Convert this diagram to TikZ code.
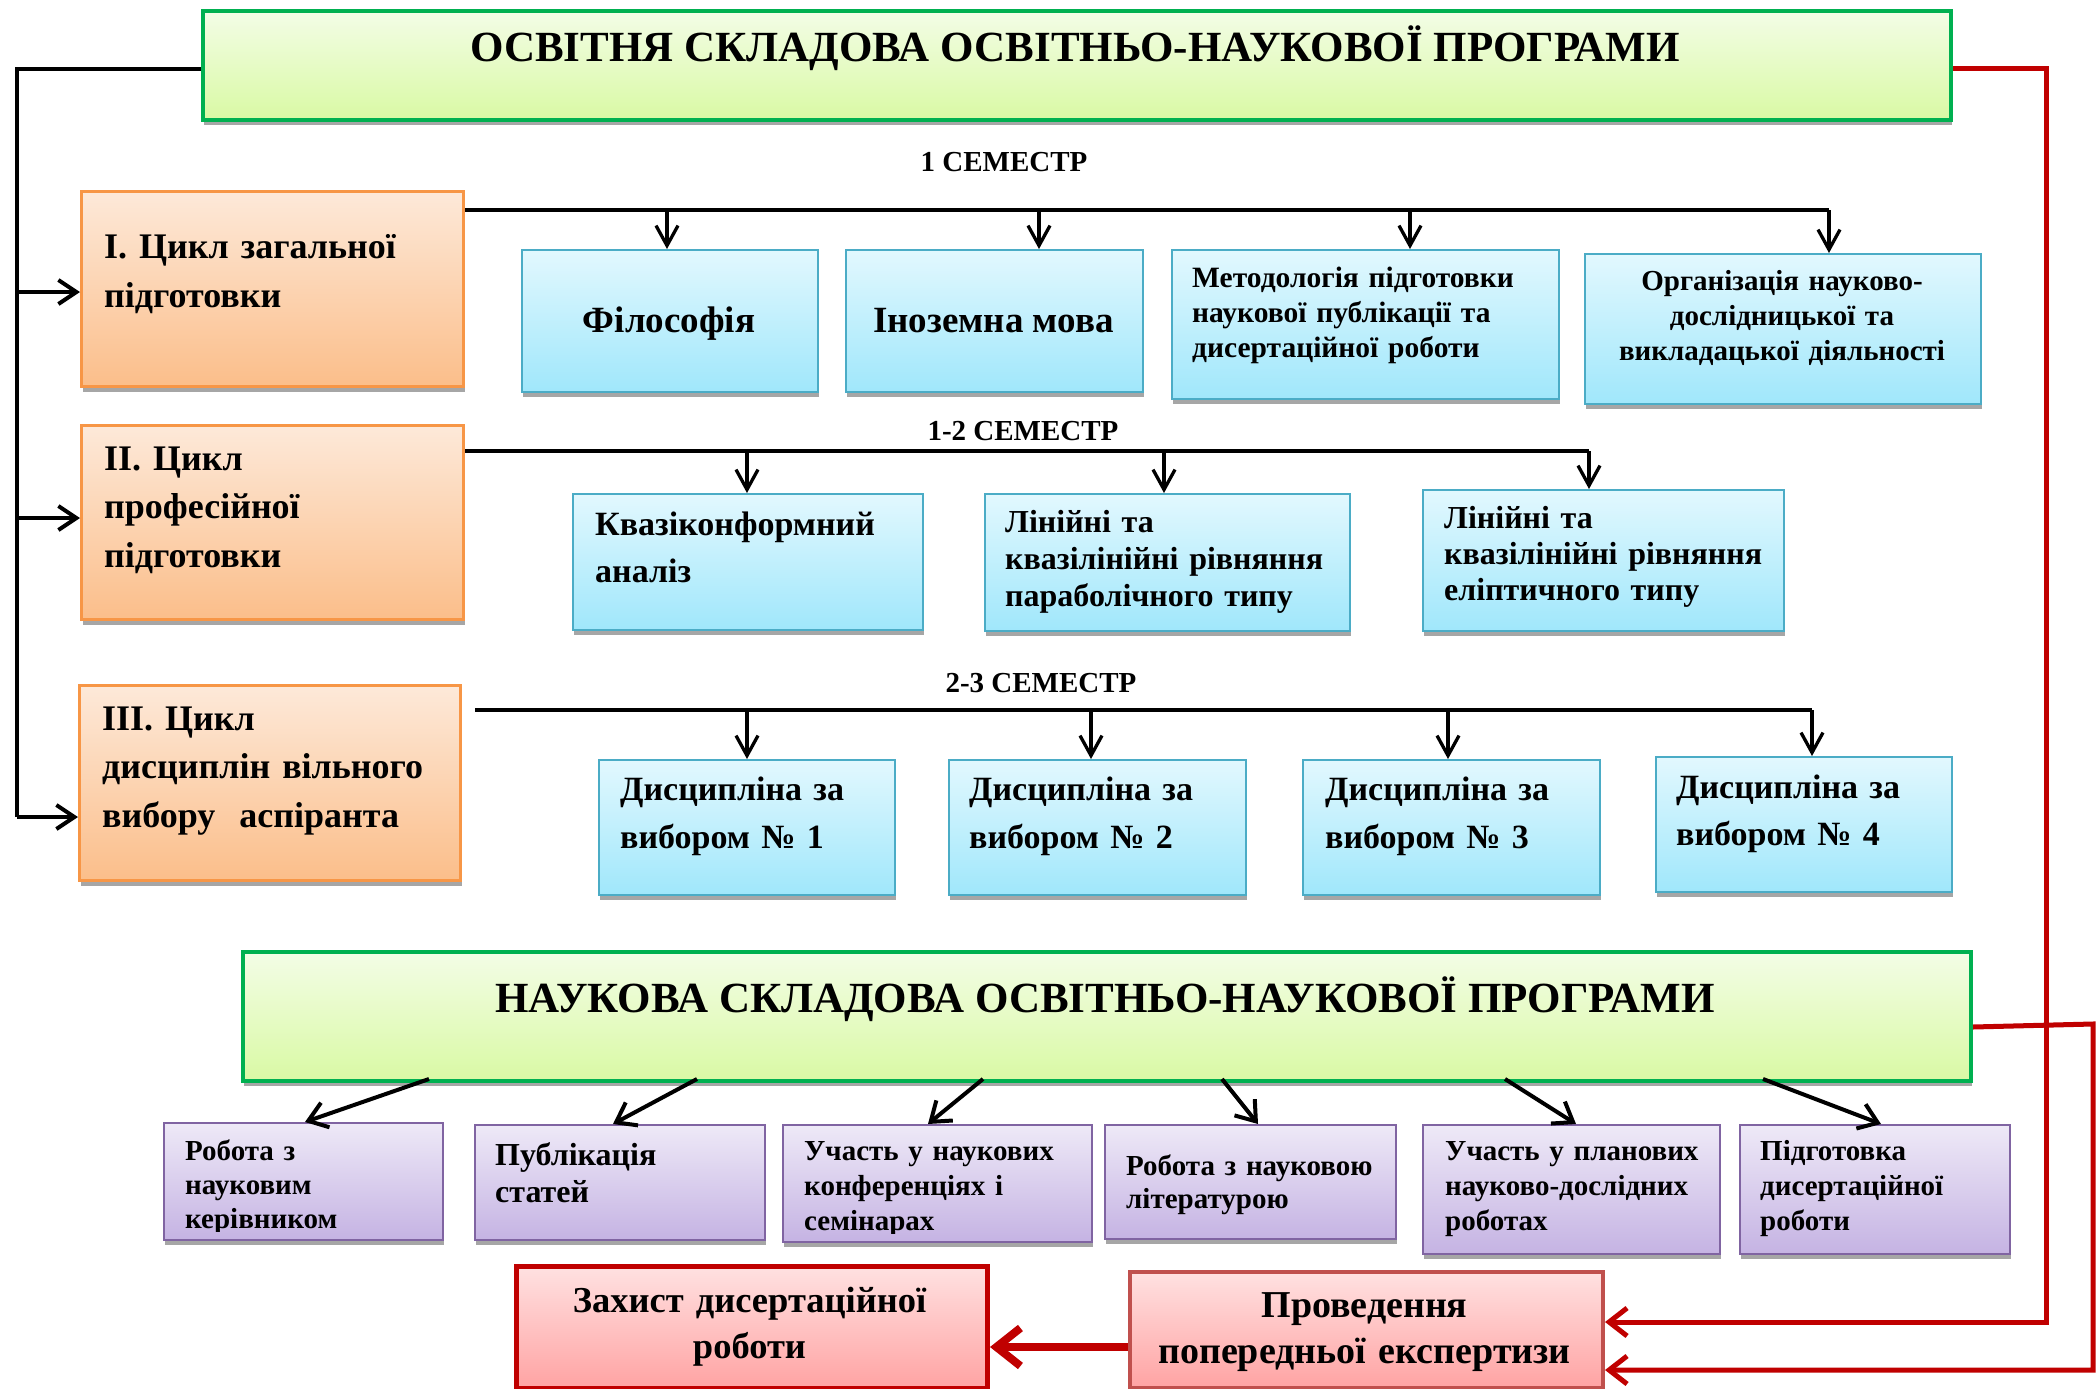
\documentclass[tikz,border=0pt]{standalone}
\usepackage{fontspec}
\setmainfont{Liberation Serif}
\usetikzlibrary{arrows.meta,shadows}
\definecolor{gborder}{HTML}{00B050}
\definecolor{gtop}{HTML}{F3FDE6}
\definecolor{gbot}{HTML}{D9F9A4}
\definecolor{oborder}{HTML}{F79646}
\definecolor{otop}{HTML}{FDE9D9}
\definecolor{obot}{HTML}{FBBE8A}
\definecolor{bborder}{HTML}{4BACC6}
\definecolor{btop}{HTML}{E2F8FE}
\definecolor{bbot}{HTML}{A0E7FB}
\definecolor{pborder}{HTML}{8064A2}
\definecolor{ptop}{HTML}{EEE9F7}
\definecolor{pbot}{HTML}{C5B3E3}
\definecolor{rborder}{HTML}{C00000}
\definecolor{rtwoborder}{HTML}{C0504D}
\definecolor{rtop}{HTML}{FFE1E1}
\definecolor{rbot}{HTML}{FFA3A3}
\definecolor{shadowgray}{HTML}{A6A6A6}
\tikzset{
  box/.style={rectangle, inner sep=0pt, anchor=north west,
    drop shadow={shadow xshift=1pt, shadow yshift=-5pt, fill=shadowgray, opacity=1}},
  greenbox/.style={box, draw=gborder, line width=4pt, top color=gtop, bottom color=gbot},
  orangebox/.style={box, draw=oborder, line width=3pt, top color=otop, bottom color=obot},
  bluebox/.style={box, draw=bborder, line width=2pt, top color=btop, bottom color=bbot},
  purplebox/.style={box, draw=pborder, line width=2pt, top color=ptop, bottom color=pbot},
  redbox/.style={box, draw=rborder, line width=5pt, top color=rtop, bottom color=rbot},
  redboxtwo/.style={box, draw=rtwoborder, line width=4pt, top color=rtop, bottom color=rbot},
  txt/.style={inner sep=0pt, anchor=base west, align=left, font=\bfseries},
  ctxt/.style={inner sep=0pt, anchor=base, align=center, font=\bfseries},
  bus/.style={line width=4pt, black},
  drop/.style={line width=3.3pt, black, -{Straight Barb[length=20pt,width=22pt]}},
  feed/.style={line width=4pt, black, -{Straight Barb[length=18pt,width=24pt]}},
  diag/.style={line width=4pt, black, -{Straight Barb[length=18pt,width=26pt]}},
  redline/.style={line width=5pt, rborder, -{Straight Barb[length=18pt,width=28pt]}},
  redbig/.style={line width=8pt, rborder, -{Straight Barb[length=24pt,width=38pt]}},
}
\begin{document}
\begin{tikzpicture}[x=1pt,y=-1pt]
\fill[white] (0,0) rectangle (2099,1389);
\useasboundingbox (0,0) rectangle (2099,1389);

% top green
\node[greenbox, minimum width=1748pt, minimum height=109pt] (tg) at (201,9) {};
\node[ctxt, font=\bfseries\fontsize{43}{50}\selectfont] (tgt) at (1075,62) {ОСВІТНЯ СКЛАДОВА ОСВІТНЬО-НАУКОВОЇ ПРОГРАМИ};

% orange cycles
\node[orangebox, minimum width=382pt, minimum height=195pt] (c1) at (80,190) {};
\node[orangebox, minimum width=382pt, minimum height=194pt] (c2) at (80,424) {};
\node[orangebox, minimum width=381pt, minimum height=195pt] (c3) at (78,684) {};
\node[txt, text width=350pt, font=\bfseries\fontsize{36}{49}\selectfont] (c1t) at (104,258) {I. Цикл загальної\\підготовки};
\node[txt, text width=350pt, font=\bfseries\fontsize{36}{48.5}\selectfont] (c2t) at (104,470) {II. Цикл\\професійної\\підготовки};
\node[txt, text width=350pt, font=\bfseries\fontsize{36}{48.5}\selectfont] (c3t) at (102,730) {III. Цикл\\дисциплін вільного\\вибору\ \ аспіранта};

% semester labels
\node[ctxt, font=\bfseries\fontsize{29}{32}\selectfont] (s1) at (1004,171) {1 СЕМЕСТР};
\node[ctxt, font=\bfseries\fontsize{29}{32}\selectfont] (s2) at (1023,440) {1-2 СЕМЕСТР};
\node[ctxt, font=\bfseries\fontsize{29}{32}\selectfont] (s3) at (1041,692) {2-3 СЕМЕСТР};

% row 1
\node[bluebox, minimum width=296pt, minimum height=142pt] (b11) at (521,249) {};
\node[bluebox, minimum width=297pt, minimum height=142pt] (b12) at (845,249) {};
\node[bluebox, minimum width=387pt, minimum height=149pt] (b13) at (1171,249) {};
\node[bluebox, minimum width=396pt, minimum height=150pt] (b14) at (1584,253) {};
\node[ctxt, font=\bfseries\fontsize{37}{42}\selectfont] (b11t) at (669,332) {Філософія};
\node[ctxt, font=\bfseries\fontsize{37}{42}\selectfont] (b12t) at (993.5,332) {Іноземна мова};
\node[txt, text width=370pt, font=\bfseries\fontsize{29.5}{35}\selectfont] (b13t) at (1192,287) {Методологія підготовки\\наукової публікації та\\дисертаційної роботи};
\node[ctxt, text width=390pt, font=\bfseries\fontsize{29}{35}\selectfont] (b14t) at (1782,290) {Організація науково-\\дослідницької та\\викладацької діяльності};

% row 2
\node[bluebox, minimum width=350pt, minimum height=136pt] (b21) at (572,493) {};
\node[bluebox, minimum width=365pt, minimum height=137pt] (b22) at (984,493) {};
\node[bluebox, minimum width=361pt, minimum height=141pt] (b23) at (1422,489) {};
\node[txt, text width=340pt, font=\bfseries\fontsize{34}{47}\selectfont] (b21t) at (595,535) {Квазіконформний\\аналіз};
\node[txt, text width=350pt, font=\bfseries\fontsize{32}{37}\selectfont] (b22t) at (1005,532) {Лінійні та\\квазілінійні рівняння\\параболічного типу};
\node[txt, text width=350pt, font=\bfseries\fontsize{32}{36}\selectfont] (b23t) at (1444,528) {Лінійні та\\квазілінійні рівняння\\еліптичного типу};

% row 3
\node[bluebox, minimum width=296pt, minimum height=135pt] (b31) at (598,759) {};
\node[bluebox, minimum width=297pt, minimum height=135pt] (b32) at (948,759) {};
\node[bluebox, minimum width=297pt, minimum height=135pt] (b33) at (1302,759) {};
\node[bluebox, minimum width=296pt, minimum height=135pt] (b34) at (1655,756) {};
\node[txt, text width=290pt, font=\bfseries\fontsize{34}{48}\selectfont] (b31t) at (620,800) {Дисципліна за\\вибором №~1};
\node[txt, text width=290pt, font=\bfseries\fontsize{34}{48}\selectfont] (b32t) at (969,800) {Дисципліна за\\вибором №~2};
\node[txt, text width=290pt, font=\bfseries\fontsize{34}{48}\selectfont] (b33t) at (1325,800) {Дисципліна за\\вибором №~3};
\node[txt, text width=290pt, font=\bfseries\fontsize{34}{47}\selectfont] (b34t) at (1676,798) {Дисципліна за\\вибором №~4};

% bottom green
\node[greenbox, minimum width=1728pt, minimum height=129pt] (bg) at (241,950) {};
\node[ctxt, font=\bfseries\fontsize{43}{50}\selectfont] (bgt) at (1105,1012) {НАУКОВА СКЛАДОВА ОСВІТНЬО-НАУКОВОЇ ПРОГРАМИ};

% purple
\node[purplebox, minimum width=279pt, minimum height=117pt] (p1) at (163,1122) {};
\node[purplebox, minimum width=290pt, minimum height=115pt] (p2) at (474,1124) {};
\node[purplebox, minimum width=309pt, minimum height=117pt] (p3) at (782,1124) {};
\node[purplebox, minimum width=291pt, minimum height=114pt] (p4) at (1104,1124) {};
\node[purplebox, minimum width=297pt, minimum height=129pt] (p5) at (1422,1124) {};
\node[purplebox, minimum width=270pt, minimum height=129pt] (p6) at (1739,1124) {};
\begin{scope}
\clip (p1.north west) rectangle ([yshift=10pt]p1.south east);
\node[txt, text width=260pt, font=\bfseries\fontsize{29}{34}\selectfont] (p1t) at (185,1160) {Робота з\\науковим\\керівником};
\end{scope}
\node[txt, text width=260pt, font=\bfseries\fontsize{32}{37}\selectfont] (p2t) at (495,1165) {Публікація\\статей};
\begin{scope}
\clip (p3.north west) rectangle ([yshift=10pt]p3.south east);
\node[txt, text width=290pt, font=\bfseries\fontsize{29}{35}\selectfont] (p3t) at (804,1160) {Участь у наукових\\конференціях і\\семінарах};
\end{scope}
\node[txt, text width=280pt, font=\bfseries\fontsize{29}{33}\selectfont] (p4t) at (1126,1175) {Робота з науковою\\літературою};
\node[txt, text width=280pt, font=\bfseries\fontsize{29}{35}\selectfont] (p5t) at (1445,1160) {Участь у планових\\науково-дослідних\\роботах};
\node[txt, text width=250pt, font=\bfseries\fontsize{29}{35}\selectfont] (p6t) at (1760,1160) {Підготовка\\дисертаційної\\роботи};

% red boxes
\node[redbox, minimum width=471pt, minimum height=122pt] (zah) at (514,1264) {};
\node[redboxtwo, minimum width=473pt, minimum height=116pt] (prov) at (1128,1270) {};
\node[ctxt, text width=460pt, font=\bfseries\fontsize{36.5}{46}\selectfont] (zaht) at (749.5,1312) {Захист дисертаційної\\роботи};
\node[ctxt, text width=470pt, font=\bfseries\fontsize{38}{46}\selectfont] (provt) at (1364.5,1317) {Проведення\\попередньої експертизи};

% left feed line
\coordinate (ltop) at (17,69);
\coordinate (lbot) at (17,817);
\coordinate (f1) at (17,292);
\coordinate (f2) at (17,518);
\draw[bus] (tg.west |- ltop) -- (ltop) -- (lbot);
\draw[feed] (f1) -- (f1 -| c1.west);
\draw[feed] (f2) -- (f2 -| c2.west);
\draw[feed] (lbot) -- (lbot -| c3.west);

% bus 1
\coordinate (d11) at (667,210);
\coordinate (d12) at (1039,210);
\coordinate (d13) at (1410,210);
\coordinate (d14) at (1829,210);
\draw[bus] (c1.east |- d14) -- (d14);
\draw[drop] (d11) -- (d11 |- b11.north);
\draw[drop] (d12) -- (d12 |- b12.north);
\draw[drop] (d13) -- (d13 |- b13.north);
\draw[drop] (d14) -- (d14 |- b14.north);

% bus 2
\coordinate (d21) at (747,451);
\coordinate (d22) at (1164,451);
\coordinate (d23) at (1589,451);
\draw[bus] (c2.east |- d23) -- (d23);
\draw[drop] (d21) -- (d21 |- b21.north);
\draw[drop] (d22) -- (d22 |- b22.north);
\draw[drop] (d23) -- (d23 |- b23.north);

% bus 3
\coordinate (bus3s) at (475,710);
\coordinate (d31) at (747,710);
\coordinate (d32) at (1091,710);
\coordinate (d33) at (1448,710);
\coordinate (d34) at (1812,710);
\draw[bus] (bus3s) -- (d34);
\draw[drop] (d31) -- (d31 |- b31.north);
\draw[drop] (d32) -- (d32 |- b32.north);
\draw[drop] (d33) -- (d33 |- b33.north);
\draw[drop] (d34) -- (d34 |- b34.north);

% diagonal arrows
\coordinate (g1) at (429,1079); \coordinate (e1) at (305,1122);
\coordinate (g2) at (697,1079); \coordinate (e2) at (613,1124);
\coordinate (g3) at (983,1079); \coordinate (e3) at (928,1124);
\coordinate (g4) at (1222,1079); \coordinate (e4) at (1258,1124);
\coordinate (g5) at (1505,1079); \coordinate (e5) at (1576,1124);
\coordinate (g6) at (1763,1079); \coordinate (e6) at (1881,1124);
\draw[diag] (g1) -- (e1);
\draw[diag] (g2) -- (e2);
\draw[diag] (g3) -- (e3);
\draw[diag] (g4) -- (e4);
\draw[diag] (g5) -- (e5);
\draw[diag] (g6) -- (e6);

% red connectors
\coordinate (ra) at (2046,69);
\coordinate (rb) at (2046,1322);
\draw[redline] (tg.east |- ra) -- (ra) -- (rb) -- (rb -| prov.east);
\coordinate (rs) at (1969,1027);
\coordinate (rc) at (2093,1024);
\coordinate (rd) at (2093,1370);
\draw[redline] (bg.east |- rs) -- (rc) -- (rd) -- (rd -| prov.east);
\coordinate (rz) at (1128,1347);
\draw[redbig] (prov.west |- rz) -- (zah.east |- rz);
\end{tikzpicture}
\end{document}
